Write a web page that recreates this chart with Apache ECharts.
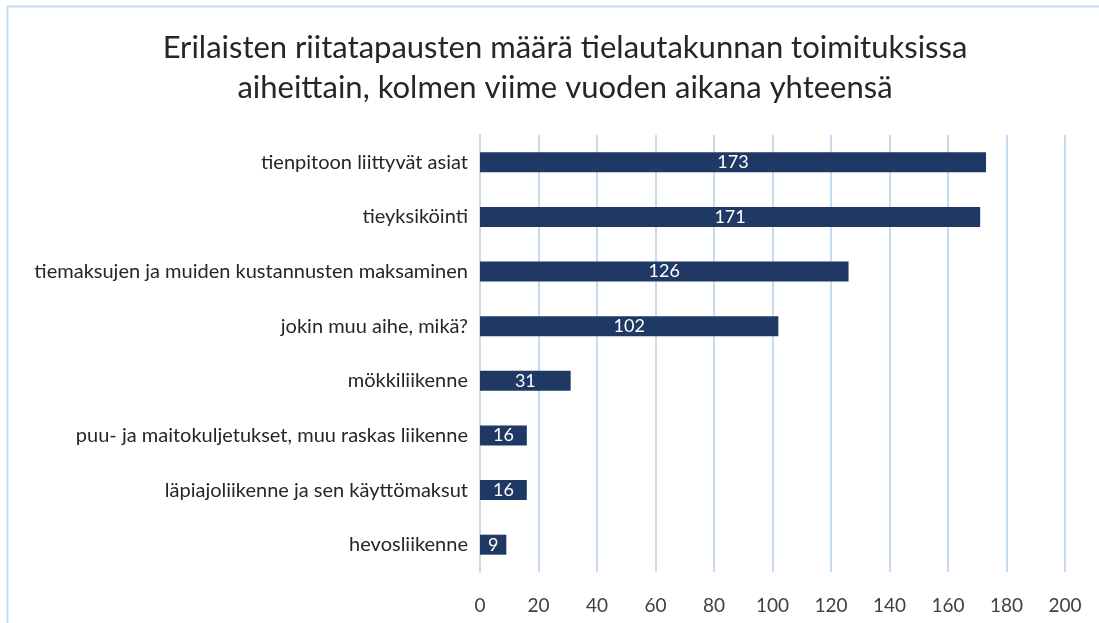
<!DOCTYPE html>
<html>
<head>
<meta charset="utf-8">
<script src="https://cdn.jsdelivr.net/npm/echarts@6/dist/echarts.min.js"></script>
<style>
  html, body { margin: 0; padding: 0; background: #fff; }
  #chart { width: 1099px; height: 623px; }
</style>
</head>
<body>
<div id="chart"></div>
<script>
// categories bottom-to-top (ECharts category axis starts at the bottom)
const categories = [
  'hevosliikenne',
  'läpiajoliikenne ja sen käyttömaksut',
  'puu- ja maitokuljetukset, muu raskas liikenne',
  'mökkiliikenne',
  'jokin muu aihe, mikä?',
  'tiemaksujen ja muiden kustannusten maksaminen',
  'tieyksiköinti',
  'tienpitoon liittyvät asiat'
];
const counts = [9, 16, 16, 31, 102, 126, 171, 173];
const titleText = 'Erilaisten riitatapausten määrä tielautakunnan toimituksissa\naiheittain, kolmen viime vuoden aikana yhteensä';

const font = 'Lato, "Open Sans", sans-serif';
const chart = echarts.init(document.getElementById('chart'), null, { renderer: 'canvas' });

chart.setOption({
  backgroundColor: '#fff',
  animation: false,
  graphic: [{
    type: 'rect',
    shape: { x: 7.5, y: 6.5, width: 1200, height: 700 },
    style: { fill: 'none', stroke: '#c5dcf0', lineWidth: 2 },
    silent: true
  }],
  title: {
    text: titleText,
    left: 560,
    textAlign: 'center',
    top: 23,
    textStyle: {
      fontFamily: font,
      fontWeight: 'normal',
      fontSize: 31,
      lineHeight: 40,
      color: '#262626'
    }
  },
  grid: { left: 480, right: 34, top: 135, bottom: 51, containLabel: false },
  xAxis: {
    type: 'value',
    min: 0,
    max: 200,
    interval: 20,
    axisLine: { show: false },
    axisTick: { show: false },
    splitLine: { show: true, lineStyle: { color: '#c5dcf0', width: 2 } },
    axisLabel: { fontFamily: font, fontSize: 19, color: '#404040', margin: 24 }
  },
  yAxis: {
    type: 'category',
    data: categories,
    axisLine: { show: true, lineStyle: { color: '#c5dcf0', width: 2 } },
    axisTick: { show: false },
    axisLabel: { fontFamily: font, fontSize: 20, color: '#262626', margin: 12 }
  },
  series: [{
    type: 'bar',
    data: counts,
    barWidth: 20,
    itemStyle: { color: '#203864' },
    label: {
      show: true,
      position: 'inside',
      color: '#fff',
      fontFamily: font,
      fontSize: 18
    }
  }]
});
</script>
</body>
</html>
